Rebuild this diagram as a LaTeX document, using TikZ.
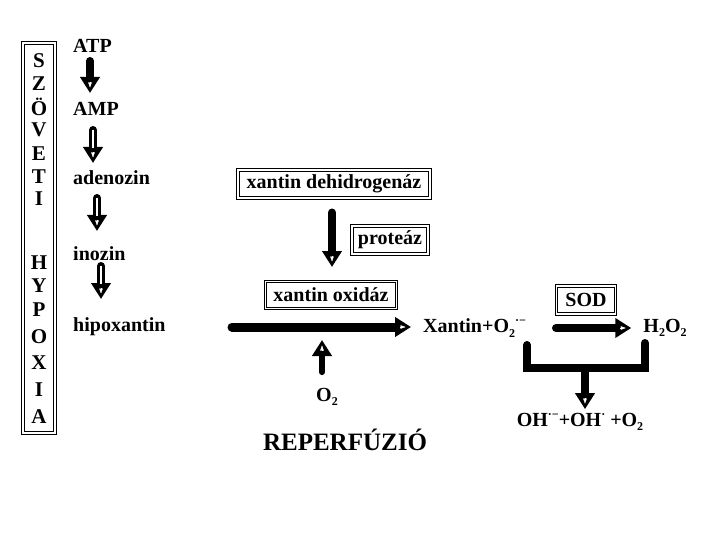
\documentclass[tikz,border=0pt]{standalone}
\usepackage{fontspec}
\setmainfont{Liberation Serif}
\usetikzlibrary{arrows.meta,calc}
\newcommand\msub[1]{\raisebox{-0.45ex}{\fontsize{12}{12}\selectfont #1}}
\newcommand\msup[1]{\raisebox{0.9ex}{\fontsize{12}{12}\selectfont #1}}
% fat arrow: black shaft, big black head with small white core
\newcommand\fatarrow[4][]{%
  \draw[line width=#4, line cap=round, #1, -{Triangle[length=16pt,width=19pt]}] (#2) -- (#3);
  \draw[white, line width=0.2pt, -{Triangle[length=5pt,width=3.5pt]}] ($(#3)!11pt!(#2)$) -- ($(#3)!5.5pt!(#2)$);
}
\begin{document}
\begin{tikzpicture}[x=1pt,y=-1pt,
  txt/.style={font=\bfseries\fontsize{20}{24}\selectfont, inner sep=0pt},
  lbl/.style={txt, anchor=west},
  letter/.style={txt, font=\bfseries\fontsize{21}{24}\selectfont},
  frame/.style={draw, double, double distance=1.6pt, line width=1pt, inner sep=0pt},
  hollow/.style={draw=white, line width=1.5pt}
]
\useasboundingbox (0,0) rectangle (720,540);
\fill[white] (0,0) rectangle (720,540);

% left frame
\node[frame, minimum width=32pt, minimum height=390pt] (hypbox) at (39,238) {};
\foreach \l/\y [count=\i] in {S/61,Z/84,Ö/107,V/130,E/154,T/177,I/199,H/263,Y/286,P/310,O/337,X/363,I/390,A/417}
  \node[letter] (let\i) at (39,\y) {\l};

% left column
\node[lbl] (atp) at (73,46) {ATP};
\node[lbl] (amp) at (73,109) {AMP};
\node[lbl] (ade) at (73,178) {adenozin};
\node[lbl] (ino) at (73,254) {inozin};
\node[lbl] (hip) at (73,327) {hipoxantin};

\coordinate (a1s) at (90,61);  \coordinate (a1e) at (90,93);
\coordinate (a2s) at (93,130); \coordinate (a2e) at (93,163);
\coordinate (a3s) at (97,198); \coordinate (a3e) at (97,231);
\coordinate (a4s) at (101,266); \coordinate (a4e) at (101,299);
\fatarrow{a1s}{a1e}{8pt}
\fatarrow{a2s}{a2e}{8pt}
\fatarrow{a3s}{a3e}{8pt}
\fatarrow{a4s}{a4e}{8pt}
\draw[hollow] (a2s) -- ([yshift=15pt]a2e);
\draw[hollow] (a3s) -- ([yshift=15pt]a3e);
\draw[hollow] (a4s) -- ([yshift=15pt]a4e);

% center column
\node[frame, txt, minimum width=192pt, minimum height=28pt] (xdh) at (334,184) {xantin dehidrogenáz};
\node[frame, txt, minimum width=76pt, minimum height=28pt] (prot) at (390,240) {proteáz};
\node[frame, txt, minimum width=131pt, minimum height=27pt] (xo) at (331,295) {xantin oxidáz};
\coordinate (d1s) at ([xshift=-2pt,yshift=-14pt]xdh.south);
\coordinate (d1e) at ([yshift=14pt]xo.north -| d1s);
\fatarrow{d1s}{d1e}{8pt}

\node[lbl] (xan) at (423,328) {Xantin+O\msub{2}\msup{·−}};
\coordinate (mstart) at (232,327);
\coordinate (mend) at ([xshift=-12pt,yshift=1pt]xan.west);
\fatarrow{mstart}{mend}{9pt}

\node[txt] (o2) at (327,397) {O\msub{2}};
\coordinate (us) at ([xshift=-5pt,yshift=16pt]o2.north);
\coordinate (ue) at ([yshift=-31pt]xo.south -| us);
\fatarrow{us}{ue}{6pt}

\node[txt, font=\bfseries\fontsize{25}{30}\selectfont] (rep) at (345,440) {REPERFÚZIÓ};

% right side
\node[frame, txt, minimum width=59pt, minimum height=28pt] (sod) at (586,300) {SOD};
\node[txt] (h2o2) at (665,328) {H\msub{2}O\msub{2}};
\coordinate (sstart) at (556,328);
\coordinate (send) at ([xshift=-12pt]h2o2.west);
\fatarrow{sstart}{send}{8pt}

\coordinate (bl) at (527,345);
\coordinate (br) at (645,343);
\coordinate (bc) at (585,368);
\draw[line width=8pt, line cap=round, line join=miter] (bl) -- (527,368) -- (645,368) -- (br);

\node[txt] (prod) at (580,422) {OH\msup{·−}+OH\msup{·} +O\msub{2}};
\coordinate (pe) at ([yshift=4pt]prod.north -| bc);
\fatarrow{bc}{pe}{8pt}
\end{tikzpicture}
\end{document}
